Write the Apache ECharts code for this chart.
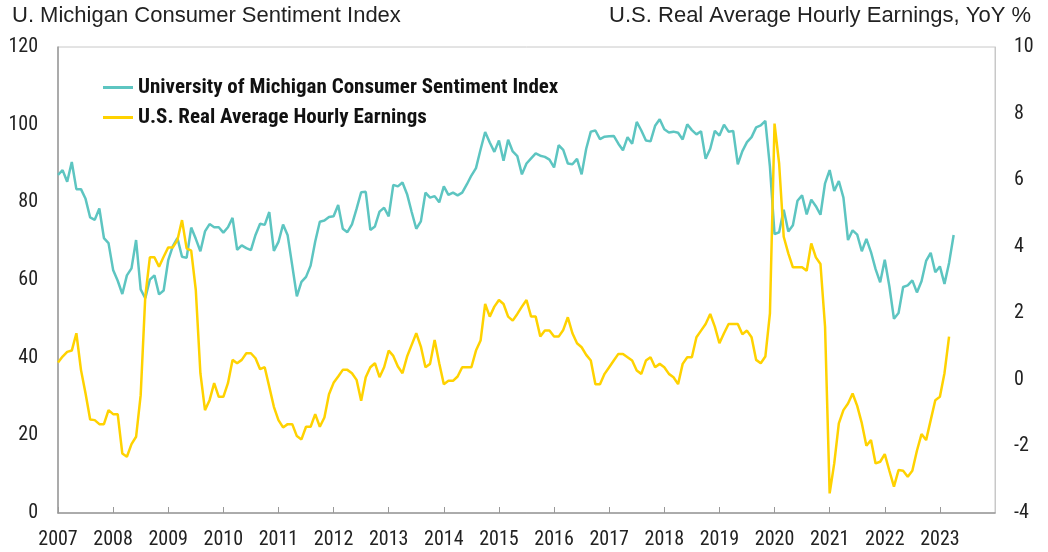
<!DOCTYPE html>
<html>
<head>
<meta charset="utf-8">
<script src="https://cdn.jsdelivr.net/npm/echarts@6/dist/echarts.min.js"></script>
<style>
html,body{margin:0;padding:0;background:#fff;}
#chart{width:1048px;height:552px;}
</style>
</head>
<body>
<div id="chart"></div>
<script>
// Monthly observations, Apr 2007 onward
var startYear = 2007, startMonth = 4, totalMonths = 205;
var yearLabels = ['2007','2008','2009','2010','2011','2012','2013','2014','2015','2016','2017','2018','2019','2020','2021','2022','2023'];

var sentiment = [
  87.1, 88.3, 85.3, 90.4, 83.4, 83.4, 80.9, 76.1, 75.5,
  78.4, 70.8, 69.5, 62.6, 59.8, 56.4, 61.2, 63.0, 70.3, 57.6, 55.3, 60.1,
  61.2, 56.3, 57.3, 65.1, 68.7, 70.8, 66.0, 65.7, 73.5, 70.6, 67.4, 72.5,
  74.4, 73.6, 73.6, 72.2, 73.6, 76.0, 67.8, 68.9, 68.2, 67.7, 71.6, 74.5,
  74.2, 77.5, 67.5, 69.8, 74.3, 71.5, 63.7, 55.8, 59.5, 60.8, 63.7, 69.9,
  75.0, 75.3, 76.2, 76.4, 79.3, 73.2, 72.3, 74.3, 78.3, 82.6, 82.7, 72.9,
  73.8, 77.6, 78.6, 76.4, 84.5, 84.1, 85.1, 82.1, 77.5, 73.2, 75.1, 82.5,
  81.2, 81.6, 80.0, 84.1, 81.9, 82.5, 81.8, 82.5, 84.6, 86.9, 88.8, 93.6,
  98.1, 95.4, 93.0, 95.9, 90.7, 96.1, 93.1, 91.9, 87.2, 90.0, 91.3, 92.6,
  92.0, 91.7, 91.0, 89.0, 94.7, 93.5, 90.0, 89.8, 91.2, 87.2, 93.8, 98.2,
  98.5, 96.3, 96.9, 97.0, 97.1, 95.1, 93.4, 96.8, 95.1, 100.7, 98.5, 95.9,
  95.7, 99.7, 101.4, 98.8, 98.0, 98.2, 97.9, 96.2, 100.1, 98.6, 97.5, 98.3,
  91.2, 93.8, 98.4, 97.2, 100.0, 98.2, 98.4, 89.8, 93.2, 95.5, 96.8, 99.3,
  99.8, 101.0, 89.1, 71.8, 72.3, 78.1, 72.5, 74.1, 80.4, 81.8, 76.9, 80.7,
  79.0, 76.8, 84.9, 88.3, 82.9, 85.5, 81.2, 70.3, 72.8, 71.7, 67.4, 70.6,
  67.2, 62.8, 59.4, 65.2, 58.4, 50.0, 51.5, 58.2, 58.6, 59.9, 56.8, 59.7,
  64.9, 67.0, 62.0, 63.5, 59.0, 64.4, 71.6
];

var realEarnings = [
  0.52, 0.70, 0.84, 0.88, 1.40, 0.30, -0.41, -1.19, -1.21,
  -1.33, -1.33, -0.91, -1.03, -1.03, -2.21, -2.31, -1.93, -1.71, -0.46, 2.50, 3.68,
  3.68, 3.40, 3.70, 3.98, 3.98, 4.20, 4.80, 3.95, 3.88, 2.70, 0.20, -0.91,
  -0.61, -0.10, -0.51, -0.51, -0.10, 0.60, 0.50, 0.60, 0.80, 0.80, 0.65, 0.32,
  0.38, -0.21, -0.81, -1.21, -1.43, -1.33, -1.33, -1.69, -1.79, -1.41, -1.41, -1.03,
  -1.41, -1.13, -0.43, -0.09, 0.10, 0.30, 0.30, 0.20, 0.00, -0.63, 0.08, 0.38,
  0.50, 0.08, 0.38, 0.88, 0.72, 0.40, 0.20, 0.70, 1.05, 1.40, 1.00, 0.38,
  0.48, 1.20, 0.50, -0.13, -0.03, -0.03, 0.10, 0.38, 0.38, 0.38, 0.88, 1.18,
  2.28, 1.90, 2.20, 2.40, 2.28, 1.90, 1.78, 1.98, 2.20, 2.40, 1.90, 1.90,
  1.30, 1.48, 1.48, 1.30, 1.30, 1.50, 1.88, 1.40, 1.10, 0.98, 0.75, 0.58,
  -0.13, -0.13, 0.18, 0.38, 0.58, 0.78, 0.78, 0.68, 0.58, 0.28, 0.18, 0.58,
  0.68, 0.38, 0.48, 0.38, 0.18, 0.08, -0.13, 0.48, 0.68, 0.68, 1.28, 1.48,
  1.68, 1.98, 1.60, 1.10, 1.40, 1.68, 1.68, 1.68, 1.37, 1.48, 1.28, 0.60,
  0.50, 0.70, 2.00, 7.70, 6.50, 4.30, 3.80, 3.38, 3.38, 3.38, 3.28, 4.10,
  3.68, 3.48, 1.60, -3.41, -2.51, -1.31, -0.91, -0.71, -0.41, -0.78, -1.30, -1.98,
  -1.81, -2.51, -2.46, -2.23, -2.73, -3.21, -2.71, -2.73, -2.91, -2.73, -2.13, -1.63,
  -1.81, -1.21, -0.61, -0.51, 0.20, 1.30
];

var months = [];
for (var k = 0; k < totalMonths; k++) {
  var mm = startMonth - 1 + k;
  var yy = startYear + Math.floor(mm / 12);
  var mo = (mm % 12) + 1;
  months.push(yy + '-' + (mo < 10 ? '0' + mo : mo));
}

var tickFont = "'Liberation Sans Narrow','Arial Narrow','Roboto Condensed',sans-serif";
var showYear = function (idx) { return idx % 12 === 0 && idx / 12 < yearLabels.length; };

var chart = echarts.init(document.getElementById('chart'), null, {renderer: 'canvas'});
chart.setOption({
  animation: false,
  backgroundColor: '#ffffff',
  grid: {left: 58, right: 53, top: 47, bottom: 39, show: true, borderColor: '#c8c8c8', borderWidth: 1, backgroundColor: 'transparent'},
  legend: {
    orient: 'vertical', left: 98, top: 72, itemWidth: 30, itemHeight: 3, itemGap: 9,
    icon: 'rect',
    textStyle: {fontFamily: tickFont, fontWeight: 'bold', fontSize: 21, color: '#111', lineHeight: 21},
    data: ['University of Michigan Consumer Sentiment Index', 'U.S. Real Average Hourly Earnings']
  },
  graphic: [
    {type: 'text', left: 12, top: 5, style: {text: 'U. Michigan Consumer Sentiment Index', fontFamily: "'Liberation Sans',Arial,sans-serif", fontSize: 22, fill: '#222'}},
    {type: 'text', right: 17, top: 5, style: {text: 'U.S. Real Average Hourly Earnings, YoY %', fontFamily: "'Liberation Sans',Arial,sans-serif", fontSize: 22, fill: '#222'}}
  ],
  xAxis: {
    type: 'category', boundaryGap: false, data: months,
    axisLine: {lineStyle: {color: '#999', width: 1.5}},
    axisTick: {show: true, inside: true, length: 6, interval: showYear, lineStyle: {color: '#999'}},
    axisLabel: {interval: showYear, margin: 17, fontFamily: tickFont, fontSize: 20, color: '#222',
      formatter: function (v, idx) { return yearLabels[idx / 12]; }},
    splitLine: {show: false}
  },
  yAxis: [
    {type: 'value', min: 0, max: 120, interval: 20, position: 'left',
     axisLine: {show: true, lineStyle: {color: '#999', width: 1.5}}, axisTick: {show: false},
     axisLabel: {margin: 20, fontFamily: tickFont, fontSize: 20, color: '#222'},
     splitLine: {show: false}},
    {type: 'value', min: -4, max: 10, interval: 2, position: 'right',
     axisLine: {show: true, lineStyle: {color: '#c8c8c8', width: 1}}, axisTick: {show: false},
     axisLabel: {margin: 19, fontFamily: tickFont, fontSize: 20, color: '#222', align: 'left'},
     splitLine: {show: false}}
  ],
  series: [
    {name: 'University of Michigan Consumer Sentiment Index', type: 'line', yAxisIndex: 0, data: sentiment,
     showSymbol: false, symbol: 'none', lineStyle: {color: '#5dc5c1', width: 2.5}, itemStyle: {color: '#5dc5c1'}},
    {name: 'U.S. Real Average Hourly Earnings', type: 'line', yAxisIndex: 1, data: realEarnings,
     showSymbol: false, symbol: 'none', lineStyle: {color: '#ffd200', width: 2.5}, itemStyle: {color: '#ffd200'}}
  ]
});
</script>
</body>
</html>
